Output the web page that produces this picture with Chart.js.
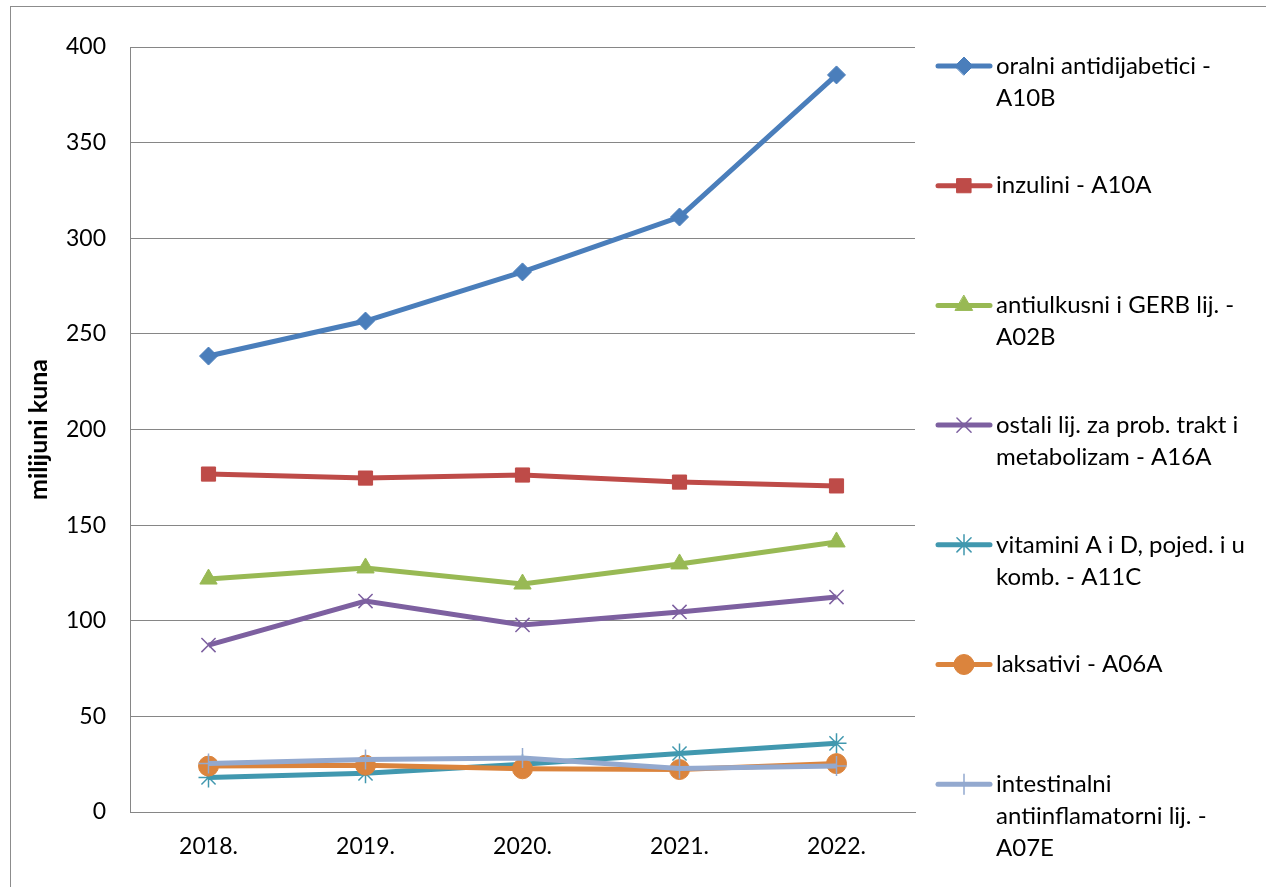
<!DOCTYPE html>
<html>
<head>
<meta charset="utf-8">
<script src="https://cdn.jsdelivr.net/npm/chart.js@4/dist/chart.umd.min.js"></script>
<style>
  html, body { margin: 0; padding: 0; background: #fff; }
  #wrap { width: 1266px; height: 887px; position: relative; }
</style>
</head>
<body>
<div id="wrap"><canvas id="chart" width="1266" height="887"></canvas></div>
<script>
const years = ["2018.", "2019.", "2020.", "2021.", "2022."]
const yTicks = [0, 50, 100, 150, 200, 250, 300, 350, 400]

const oralni = [238.4, 256.7, 282.4, 311.1, 385.4]
const inzulini = [176.7, 174.6, 176.2, 172.5, 170.5]
const antiulkusni = [121.8, 127.6, 119.2, 129.7, 141.2]
const ostali = [87.3, 110.3, 97.8, 104.6, 112.4]
const vitamini = [18.1, 20.2, 25.0, 30.6, 35.9]
const laksativi = [24.0, 24.5, 22.6, 22.2, 25.3]
const intestinalni = [25.4, 27.5, 28.2, 22.8, 24.0]

const seriesLabels = [
  ["oralni antidijabetici -", "A10B"],
  ["inzulini - A10A"],
  ["antiulkusni i GERB lij. -", "A02B"],
  ["ostali lij. za prob. trakt i", "metabolizam - A16A"],
  ["vitamini A i D, pojed. i u", "komb. - A11C"],
  ["laksativi - A06A"],
  ["intestinalni", "antiinflamatorni lij. -", "A07E"],
]

const FONT = "Lato, 'Open Sans', sans-serif"

const makeSet = (i, data, color, style, radius, filled) => ({
  label: seriesLabels[i].join(" "),
  data: data,
  borderColor: color,
  backgroundColor: color,
  borderWidth: 5,
  pointStyle: style,
  pointRadius: radius,
  pointHoverRadius: radius,
  pointBorderColor: color,
  pointBackgroundColor: filled ? color : "transparent",
  pointBorderWidth: filled ? 1 : 1.5,
  tension: 0,
  order: 6 - i,
})

const datasets = [
  makeSet(0, oralni, "#4A7EBB", "rectRot", 9, true),
  makeSet(1, inzulini, "#BE4B48", "rect", 10, true),
  makeSet(2, antiulkusni, "#98B954", "triangle", 10, true),
  makeSet(3, ostali, "#7D60A0", "crossRot", 10, false),
  makeSet(4, vitamini, "#4198AF", "star", 10, false),
  makeSet(5, laksativi, "#DB843D", "circle", 10, true),
  makeSet(6, intestinalni, "#93A9CF", "cross", 10, false),
]

// outer frame of the chart object
const framePlugin = {
  id: "frame",
  beforeDraw(chart) {
    const ctx = chart.ctx
    ctx.save()
    ctx.strokeStyle = "#8c8c8c"
    ctx.lineWidth = 1
    ctx.strokeRect(10.5, 6.5, 1400, 1000)
    ctx.restore()
  },
}

// legend with wrapped labels on the right
const sideLegend = {
  id: "sideLegend",
  afterDraw(chart) {
    const ctx = chart.ctx
    const drawPoint = Chart.helpers && Chart.helpers.drawPoint
    ctx.save()
    ctx.font = "24px " + FONT
    ctx.textBaseline = "middle"
    chart.data.datasets.forEach((ds, i) => {
      const y = 66 + i * 119.7
      ctx.strokeStyle = ds.borderColor
      ctx.lineWidth = 5
      ctx.lineCap = "round"
      ctx.beginPath()
      ctx.moveTo(938, y)
      ctx.lineTo(990, y)
      ctx.stroke()
      if (drawPoint) {
        ctx.fillStyle = ds.pointBackgroundColor
        ctx.strokeStyle = ds.borderColor
        ctx.lineWidth = ds.pointBorderWidth
        drawPoint(ctx, { pointStyle: ds.pointStyle, radius: ds.pointRadius, rotation: 0, borderWidth: ds.pointBorderWidth }, 964, y)
      }
      ctx.fillStyle = "#000"
      seriesLabels[i].forEach((line, k) => {
        ctx.fillText(line, 996, y + k * 32)
      })
    })
    ctx.restore()
  },
}

new Chart(document.getElementById("chart"), {
  type: "line",
  data: { labels: years, datasets: datasets },
  options: {
    responsive: false,
    animation: false,
    layout: { padding: { left: 0, top: 47, right: 351, bottom: 0 } },
    plugins: {
      legend: { display: false },
      tooltip: { enabled: false },
    },
    scales: {
      x: {
        offset: true,
        grid: { display: false, drawTicks: false },
        border: { color: "#868686", width: 1 },
        ticks: { color: "#000", padding: 21, font: { family: FONT, size: 23 } },
        afterFit: (s) => { s.height = 75 },
      },
      y: {
        min: 0,
        max: 400,
        afterBuildTicks: (s) => { s.ticks = yTicks.map((v) => ({ value: v })) },
        grid: { color: "#868686", drawTicks: false },
        border: { color: "#868686", width: 1 },
        ticks: { color: "#000", padding: 24, font: { family: FONT, size: 23 } },
        title: {
          display: true,
          text: "milijuni kuna",
          color: "#000",
          font: { family: FONT, size: 25, weight: "bold" },
          padding: { top: 24 },
        },
        afterFit: (s) => { s.width = 130 },
      },
    },
  },
  plugins: [framePlugin, sideLegend],
})
</script>
</body>
</html>
